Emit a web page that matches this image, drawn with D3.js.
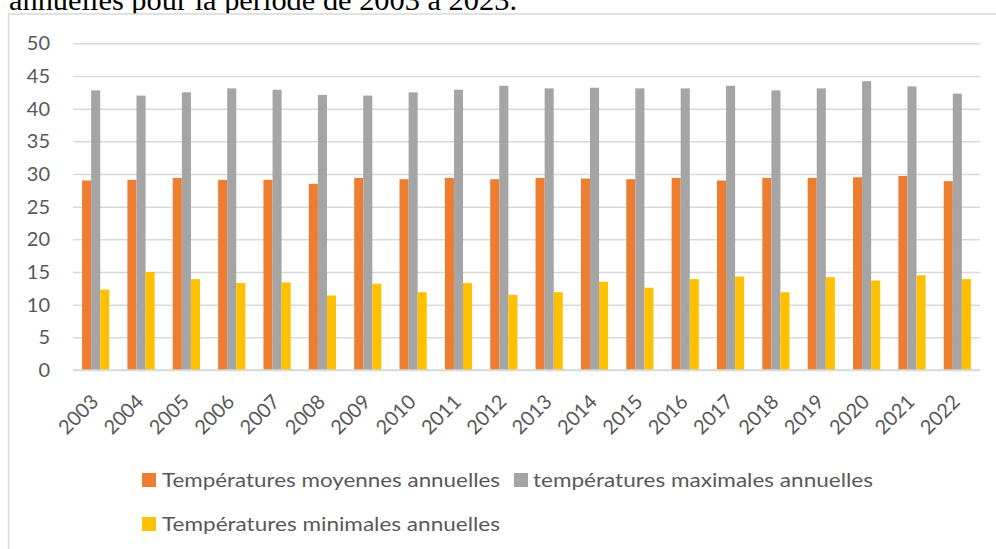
<!DOCTYPE html>
<html>
<head>
<meta charset="utf-8">
<script src="https://cdn.jsdelivr.net/npm/d3@7"></script>
<style>
html,body{margin:0;padding:0;background:#fff;overflow:hidden;}
svg{display:block;}
</style>
</head>
<body>
<svg id="c" width="996" height="549"></svg>
<script>
const years = ["2003","2004","2005","2006","2007","2008","2009","2010","2011","2012","2013","2014","2015","2016","2017","2018","2019","2020","2021","2022"];
const moyennes = [29.0,29.1,29.4,29.1,29.1,28.5,29.4,29.2,29.4,29.2,29.4,29.3,29.2,29.4,29.0,29.4,29.4,29.5,29.7,28.9];
const maximales = [42.8,42.0,42.5,43.1,42.9,42.1,42.0,42.5,42.9,43.5,43.1,43.2,43.1,43.1,43.5,42.8,43.1,44.2,43.4,42.3];
const minimales = [12.3,15.0,13.9,13.3,13.4,11.4,13.2,11.9,13.3,11.5,11.9,13.5,12.6,13.9,14.3,11.9,14.2,13.7,14.5,13.9];
const seriesNames = ["Températures moyennes annuelles","températures maximales annuelles","Températures minimales annuelles"];
const seriesColors = ["#ED7D31","#A5A5A5","#FFC000"];
const yTicks = [0,5,10,15,20,25,30,35,40,45,50];
const headerText = "annuelles pour la période de 2003 à 2023.";

const svg = d3.select("#c");
const font = "Lato, 'Open Sans', sans-serif";

// header text (partially hidden behind the chart object)
svg.append("text").attr("x", 9).attr("y", 10)
  .attr("font-family", "'Liberation Serif','Times New Roman',serif")
  .attr("font-size", 30).attr("fill", "#000")
  .attr("textLength", 508).attr("lengthAdjust", "spacingAndGlyphs")
  .text(headerText);

// chart object frame
svg.append("rect").attr("x", 8.5).attr("y", 14).attr("width", 1000).attr("height", 560)
  .attr("fill", "#fff").attr("stroke", "#D9D9D9").attr("stroke-width", 1.5);

const plotL = 73, plotR = 980, plotT = 43.3, plotB = 370;
const y = d3.scaleLinear().domain([0, 50]).range([plotB, plotT]);
const x0 = d3.scaleBand().domain(years).range([plotL, plotR]).paddingInner(0.4).paddingOuter(0.2);
const x1 = d3.scaleBand().domain([0,1,2]).range([0, x0.bandwidth()]);

// gridlines
const yAxis = d3.axisLeft(y).tickValues(yTicks).tickSize(-(plotR - plotL)).tickPadding(23).tickFormat(d3.format("d"));
const gy = svg.append("g").attr("transform", `translate(${plotL},0)`).call(yAxis);
gy.select(".domain").remove();
gy.selectAll(".tick line").attr("stroke", "#D9D9D9").attr("stroke-width", 1.5);
gy.selectAll(".tick text").attr("fill", "#595959").attr("font-family", font).attr("font-size", 20);

// bars
const data = years.map((yr, i) => ({yr, vals: [moyennes[i], maximales[i], minimales[i]]}));
const groups = svg.append("g").selectAll("g").data(data).join("g")
  .attr("transform", d => `translate(${x0(d.yr)},0)`);
groups.selectAll("rect").data(d => d.vals.map((v, k) => ({v, k}))).join("rect")
  .attr("x", d => x1(d.k))
  .attr("y", d => y(d.v))
  .attr("width", x1.bandwidth())
  .attr("height", d => y(0) - y(d.v))
  .attr("fill", d => seriesColors[d.k]);

// x axis line
const xAxis = d3.axisBottom(x0).tickSize(0).tickPadding(0);
const gx = svg.append("g").attr("transform", `translate(0,${plotB})`).call(xAxis);
gx.select(".domain").attr("stroke", "#D9D9D9").attr("stroke-width", 1.5)
  .attr("d", `M${plotL},0H${plotR}`);
gx.selectAll(".tick text")
  .attr("fill", "#595959").attr("font-family", font).attr("font-size", 20)
  .attr("text-anchor", "end")
  .attr("dy", null).attr("y", null)
  .attr("transform", "translate(4,33) rotate(-45)");

// legend
const legendItems = [
  {k: 0, x: 142, y: 473, tx: 162, len: 338},
  {k: 1, x: 514, y: 473, tx: 533, len: 340},
  {k: 2, x: 142, y: 517, tx: 162, len: 338}
];
const lg = svg.append("g");
legendItems.forEach(it => {
  lg.append("rect").attr("x", it.x).attr("y", it.y).attr("width", 14).attr("height", 14)
    .attr("fill", seriesColors[it.k]);
  lg.append("text").attr("x", it.tx).attr("y", it.y + 14)
    .attr("fill", "#595959").attr("font-family", font).attr("font-size", 20)
    .attr("textLength", it.len).attr("lengthAdjust", "spacingAndGlyphs")
    .text(seriesNames[it.k]);
});
</script>
</body>
</html>
